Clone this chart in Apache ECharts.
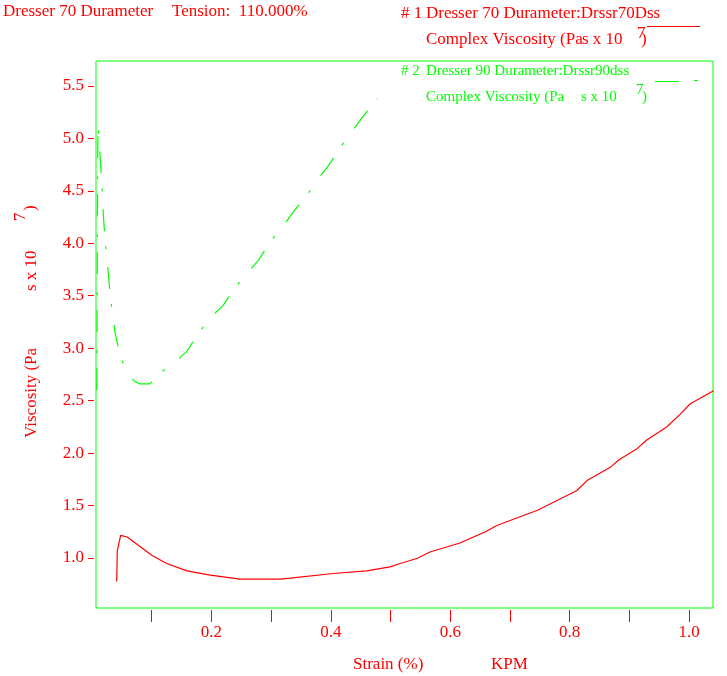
<!DOCTYPE html>
<html>
<head>
<meta charset="utf-8">
<script src="https://cdn.jsdelivr.net/npm/echarts@6/dist/echarts.min.js"></script>
<style>
html,body{margin:0;padding:0;background:#fff;}
#chart{width:727px;height:676px;}
</style>
</head>
<body>
<div id="chart"></div>
<script>
// ---- data ----
const xTickValues = [0.1, 0.2, 0.3, 0.4, 0.5, 0.6, 0.7, 0.8, 0.9, 1.0];
const xLabelValues = [0.2, 0.4, 0.6, 0.8, 1.0];
const yTickValues = [1.0, 1.5, 2.0, 2.5, 3.0, 3.5, 4.0, 4.5, 5.0, 5.5];

const seriesNames = ['Dresser 70 Durameter:Drssr70Dss', 'Dresser 90 Durameter:Drssr90dss'];

// #1 Dresser 70 — complex viscosity (Pa·s x 10^7) vs strain (%)
const strain70 = [0.0414, 0.0424, 0.048, 0.059, 0.100, 0.125, 0.159, 0.198, 0.248, 0.315, 0.332, 0.404, 0.460, 0.499, 0.516, 0.544, 0.566, 0.616, 0.658, 0.678, 0.745, 0.762, 0.812, 0.829, 0.868, 0.882, 0.912, 0.929, 0.963, 0.985, 1.002, 1.041];
const visc70   = [0.775, 1.07, 1.215, 1.20, 1.026, 0.947, 0.877, 0.836, 0.798, 0.798, 0.807, 0.852, 0.877, 0.915, 0.947, 0.995, 1.057, 1.143, 1.248, 1.31, 1.453, 1.50, 1.643, 1.738, 1.864, 1.934, 2.038, 2.124, 2.251, 2.372, 2.47, 2.594];

// #2 Dresser 90
const strain90 = [0.0080, 0.0088, 0.0095, 0.0102, 0.0134, 0.0160, 0.0190, 0.0218, 0.0273, 0.0310, 0.0385, 0.0470, 0.0580, 0.0700, 0.0790, 0.0970, 0.1110, 0.1350, 0.1590, 0.1780, 0.1980, 0.2200, 0.2400, 0.2590, 0.2790, 0.2990, 0.3200, 0.3370, 0.3600, 0.3780, 0.3960, 0.4180, 0.4370, 0.4540, 0.4780];
const visc90   = [2.60, 3.80, 4.80, 5.12, 4.84, 4.62, 4.27, 4.04, 3.71, 3.48, 3.15, 2.93, 2.78, 2.69, 2.66, 2.66, 2.75, 2.85, 2.97, 3.14, 3.29, 3.41, 3.58, 3.71, 3.84, 4.02, 4.16, 4.30, 4.46, 4.61, 4.74, 4.93, 5.08, 5.21, 5.38];

const RED = '#ff0000';
const GREEN = '#00ff00';
const SERIF = '"Liberation Serif", "Times New Roman", serif';

function pairs(xs, ys) { return xs.map((x, i) => [x, ys[i]]); }

function txt(x, y, text, color, size, rot) {
  return {
    type: 'text', x: x, y: y, rotation: rot || 0, silent: true,
    style: {
      text: text, fill: color, font: size + 'px ' + SERIF,
      textAlign: 'left', textVerticalAlign: 'middle',
      align: 'left', verticalAlign: 'middle'
    }
  };
}
function seg(x1, y1, x2, y2, color) {
  return { type: 'line', silent: true, shape: { x1: x1, y1: y1, x2: x2, y2: y2 }, style: { stroke: color, lineWidth: 1 } };
}

const chart = echarts.init(document.getElementById('chart'), null, { renderer: 'canvas' });
const R90 = Math.PI / 2;

chart.setOption({
  animation: false,
  backgroundColor: '#ffffff',
  grid: {
    left: 96, right: 14, top: 61, bottom: 68,
    show: true, borderColor: GREEN, borderWidth: 1, backgroundColor: 'transparent'
  },
  xAxis: {
    type: 'value', min: 0.0067, max: 1.040, offset: 2,
    axisLine: { show: false },
    splitLine: { show: false },
    axisTick: { show: true, length: 12, customValues: xTickValues, lineStyle: { color: RED, width: 1 } },
    axisLabel: {
      show: true, customValues: xLabelValues, margin: 14,
      color: RED, fontFamily: SERIF, fontSize: 17,
      formatter: v => Number(v).toFixed(1)
    }
  },
  yAxis: {
    type: 'value', min: 0.523, max: 5.738, offset: 2,
    axisLine: { show: false },
    splitLine: { show: false },
    axisTick: { show: true, length: 6, customValues: yTickValues, lineStyle: { color: RED, width: 1 } },
    axisLabel: {
      show: true, customValues: yTickValues, margin: 10,
      color: RED, fontFamily: SERIF, fontSize: 17,
      formatter: v => Number(v).toFixed(1)
    }
  },
  series: [
    {
      name: seriesNames[0], type: 'line', data: pairs(strain70, visc70),
      showSymbol: false, symbol: 'none', clip: true,
      lineStyle: { color: RED, width: 1.2 }
    },
    {
      name: seriesNames[1], type: 'line', data: pairs(strain90, visc90),
      showSymbol: false, symbol: 'none', clip: true,
      lineStyle: { color: GREEN, width: 1.2, type: [22, 15, 3, 18] }
    }
  ],
  graphic: { elements: [
    // title
    txt(3, 12, 'Dresser 70 Durameter', RED, 17),
    txt(172, 12, 'Tension:  110.000%', RED, 17),
    // legend #1
    txt(401, 14, '# 1', RED, 17),
    txt(426, 14, seriesNames[0], RED, 17),
    txt(426, 40, 'Complex Viscosity (Pa', RED, 17),
    txt(582, 40, 's x 10', RED, 17),
    txt(637, 34, '7', RED, 17),
    txt(641, 40, ')', RED, 17),
    seg(647, 26.5, 700, 26.5, RED),
    // legend #2
    txt(401, 71, '# 2', GREEN, 15),
    txt(426, 71, seriesNames[1], GREEN, 15),
    txt(426, 97, 'Complex Viscosity (Pa', GREEN, 15),
    txt(581, 97, 's x 10', GREEN, 15),
    txt(636, 90, '7', GREEN, 15),
    txt(642, 97, ')', GREEN, 15),
    seg(655, 81.5, 679, 81.5, GREEN),
    seg(694, 80.5, 698, 80.5, GREEN),
    // y axis name (rotated)
    txt(32, 438, 'Viscosity (Pa', RED, 17, R90),
    txt(32, 291, 's x 10', RED, 17, R90),
    txt(21, 221, '7', RED, 17, R90),
    txt(31, 211, ')', RED, 17, R90),
    // x axis name
    txt(353, 665, 'Strain (%)', RED, 17),
    txt(491, 665, 'KPM', RED, 17)
  ] }
});
</script>
</body>
</html>
